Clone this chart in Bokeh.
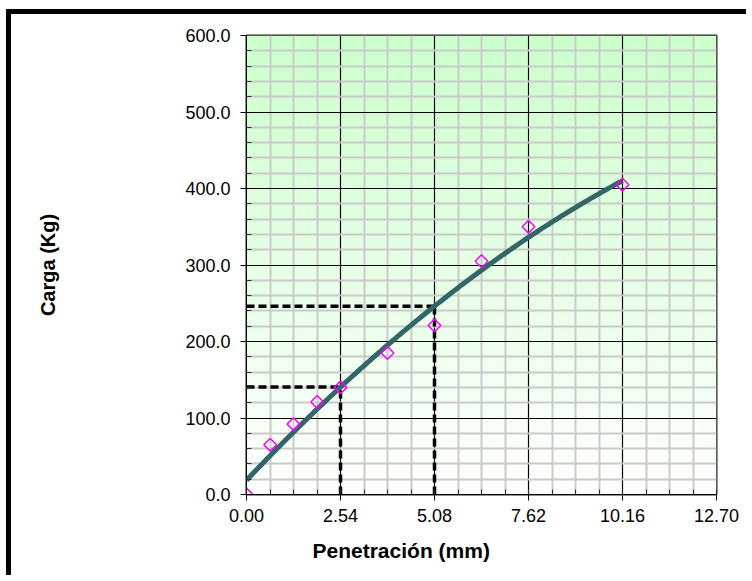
import numpy as np
from bokeh.plotting import figure
from bokeh.models import Range1d, FixedTicker, PrintfTickFormatter, Title
from bokeh.embed import file_html
from bokeh.resources import INLINE

# ---- data ----
penetracion = [0.00, 0.64, 1.27, 1.91, 2.54, 3.81, 5.08, 6.35, 7.62, 10.16]
carga = [0.0, 65.0, 92.0, 121.0, 140.0, 185.0, 221.0, 305.0, 350.0, 405.0]
cbr_penetraciones = [2.54, 5.08]

x_ticks = [0.00, 2.54, 5.08, 7.62, 10.16, 12.70]
y_ticks = [0, 100, 200, 300, 400, 500, 600]
x_minor = [round(i * 0.635, 3) for i in range(21)]
y_minor = [v for v in range(0, 601, 20) if v % 100]

x_label = "Penetración (mm)"
y_label = "Carga (Kg)"

GREEN_TOP = (204, 255, 204)
WHITE = (255, 255, 255)
FONT = "Liberation Sans"

# polynomial (2nd order) trendline, as in the spreadsheet
coef = np.polyfit(penetracion, carga, 2)
fit_x = np.linspace(0, max(penetracion), 200)
fit_y = np.polyval(coef, fit_x)

p = figure(width=740, height=566,
           x_range=Range1d(0, 12.7), y_range=Range1d(0, 600),
           output_backend="svg", toolbar_location=None,
           min_border_left=235, min_border_top=21,
           min_border_right=35, min_border_bottom=86)
p.styles = {"margin-left": "6px", "margin-top": "9px",
            "border-left": "5px solid black", "border-top": "5px solid black"}
p.background_fill_color = "white"
p.border_fill_color = "white"
p.outline_line_color = "#222222"
p.outline_line_width = 2

# gradient background of the plot area
n = 240
t = np.linspace(0, 1, n)
img = np.empty((n, 2), dtype=np.uint32)
view = img.view(dtype=np.uint8).reshape((n, 2, 4))
for k in range(3):
    col = WHITE[k] + (GREEN_TOP[k] - WHITE[k]) * t
    view[:, :, k] = col[:, None].astype(np.uint8)
view[:, :, 3] = 255
p.image_rgba(image=[img], x=0, y=0, dw=12.7, dh=600, level="image")

# axes / grid
xt = FixedTicker(ticks=x_ticks, minor_ticks=x_minor)
yt = FixedTicker(ticks=y_ticks, minor_ticks=y_minor)
p.xaxis.ticker = xt
p.yaxis.ticker = yt
p.xgrid.ticker = xt
p.ygrid.ticker = yt
p.xaxis.formatter = PrintfTickFormatter(format="%.2f")
p.yaxis.formatter = PrintfTickFormatter(format="%.1f")

for g in (p.xgrid, p.ygrid):
    g.grid_line_color = "black"
    g.grid_line_width = 1
    g.minor_grid_line_color = "#cacaca"
    g.minor_grid_line_width = 2
    g.level = "underlay"

for ax in (p.xaxis, p.yaxis):
    ax.axis_line_color = "black"
    ax.axis_line_width = 1
    ax.major_tick_line_color = "black"
    ax.major_tick_out = 6
    ax.major_tick_in = 0
    ax.minor_tick_line_color = "#333333"
    ax.minor_tick_in = 5
    ax.minor_tick_out = 0
    ax.major_label_text_font = FONT
    ax.major_label_text_font_size = "18px"
    ax.major_label_text_color = "black"
p.xaxis.major_label_standoff = 8
p.yaxis.major_label_standoff = 10

# y axis title (far to the left, as in the reference)
p.yaxis.axis_label = y_label
p.yaxis.axis_label_standoff = 123
p.yaxis.axis_label_text_font = FONT
p.yaxis.axis_label_text_font_style = "bold"
p.yaxis.axis_label_text_font_size = "20px"
p.yaxis.axis_label_text_color = "black"

# x axis title, left-aligned with an offset so it sits where the reference has it
p.add_layout(Title(text=x_label, align="left", offset=66, standoff=24,
                   text_font=FONT, text_font_style="bold", text_font_size="21px",
                   text_color="black"), "below")

# dashed CBR guide lines
for pen in cbr_penetraciones:
    v = float(np.polyval(coef, pen))
    p.line([0, pen], [v, v], line_color="black", line_width=3.5, line_dash="8 4")
    p.line([pen, pen], [0, v], line_color="black", line_width=3.5, line_dash="8 4")

# trendline
p.line(fit_x, fit_y, line_color="#336666", line_width=5)

# data points
p.scatter(penetracion, carga, marker="square", size=9, angle=np.pi / 4,
          fill_color=None, line_color="#ff00ff", line_width=1.5)

open("out.html", "w").write(file_html(p, INLINE))
